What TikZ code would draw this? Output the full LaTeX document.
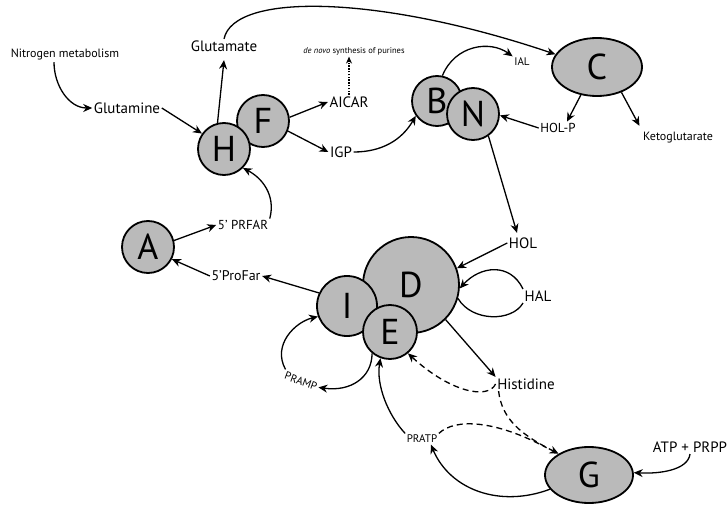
\documentclass[tikz,border=0pt]{standalone}
\usepackage{fontspec}
\setmainfont{PT Sans}
\usetikzlibrary{arrows.meta,shapes.geometric}
\newcommand{\fsz}[1]{\fontsize{#1}{#1}\selectfont}
\begin{document}
\begin{tikzpicture}[x=1pt,y=-1pt,
  enz/.style={circle,draw,line width=1.8pt,fill=black!27,inner sep=0pt,font=\fsz{36}},
  enzell/.style={ellipse,draw,line width=1.8pt,fill=black!27,inner sep=0pt,font=\fsz{36}},
  t/.style={inner sep=1.5pt,font=\fsz{15}},
  arr/.style={line width=1.3pt,-{Stealth[length=9pt,width=8pt]}},
  plain/.style={line width=1.3pt},
  dsh/.style={line width=1.3pt,dash pattern=on 6pt off 4pt},
  dts/.style={line width=1.3pt,dash pattern=on 1.5pt off 1.3pt,-{Stealth[length=7pt,width=6pt]}}
]
\useasboundingbox (0,0) rectangle (728,508);
% text nodes
\node[t,font=\fsz{12}] (nit) at (65,55) {Nitrogen metabolism};
\node[t] (glm) at (127,108) {Glutamine};
\node[t] (glu) at (224,46) {Glutamate};
\node[t,font=\fsz{8.5}] (dn) at (354,51) {\textit{de novo} synthesis of purines};
\node[t] (aicar) at (349,102) {AICAR};
\node[t] (igp) at (341,152) {IGP};
\node[t,font=\fsz{11}] (ial) at (522,62) {IAL};
\node[t,font=\fsz{13}] (holp) at (558,128) {HOL-P};
\node[t,font=\fsz{12}] (keto) at (678,138) {Ketoglutarate};
\node[t,font=\fsz{13}] (prfar) at (243,225) {5’ PRFAR};
\node[t,font=\fsz{14}] (profar) at (236,276) {5’ProFar};
\node[t] (hol) at (523,243) {HOL};
\node[t] (hal) at (538,296) {HAL};
\node[t] (his) at (526,384) {Histidine};
\node[t] (atp) at (690,447) {ATP + PRPP};
\node[t,font=\fsz{11}] (pratp) at (422,439) {PRATP};
\node[t,font=\fsz{11},rotate=-20] (pramp) at (301,381) {PRAMP};
% enzymes
\node[enz,minimum size=52pt] (F) at (263,121) {F};
\node[enz,minimum size=52pt] (H) at (224,149) {H};
\node[enz,minimum size=50pt] (B) at (437,101) {B};
\node[enz,minimum size=52pt] (N) at (473,114) {N};
\node[enzell,minimum width=90pt,minimum height=58pt] (C) at (597,67) {C};
\node[enz,minimum size=52pt] (A) at (148,247) {A};
\node[enz,minimum size=96pt] (D) at (411,285) {D};
\node[enz,minimum size=60pt] (I) at (347,306) {I};
\node[enz,minimum size=54pt] (E) at (390,332) {E};
\node[enzell,minimum width=88pt,minimum height=56pt] (G) at (589,475) {G};
% connectors
\draw[arr] ([xshift=-11pt]nit.south) to[out=-90,in=180] (glm.west);
\draw[arr] (glm.east) -- (H.145);
\draw[arr] (H.104) -- ([yshift=-7pt]glu.south);
\draw[arr] (glu.north) .. controls (234,-8) and (380,-5) .. (C.163);
\draw[arr] (F.8) -- (aicar.west);
\draw[arr] (F.-22) -- (igp.west);
\draw[dts] (aicar.north) -- (aicar.north |- dn.south);
\draw[arr] (igp.east) to[out=0,in=240] (B.215);
\draw[arr] (B.78) .. controls (455,45) and (490,40) .. (ial.north west);
\draw[arr] (C.-120) -- ([xshift=9pt]holp.north);
\draw[arr] (C.-46) -- ([xshift=-2pt,yshift=5pt]keto.north west);
\draw[arr] (holp.west) -- (N.-3);
\draw[arr] (N.-55) -- ([xshift=-6pt,yshift=3pt]hol.north);
\draw[arr] (hol.west) -- (D.20);
\draw[plain] (D.-16) .. controls (472,322) and (512,322) .. (hal.south west);
\draw[arr] (hal.north west) .. controls (510,262) and (480,266) .. (D.-4);
\draw[arr] (D.-45) -- (his.north west);
\draw[dsh,-{Stealth[length=9pt,width=8pt]}] (his.west) .. controls (488,400) and (450,392) .. (E.-50);
\draw[dsh,-{Stealth[length=9pt,width=8pt]}] ([xshift=3pt]his.south west) .. controls (502,420) and (522,435) .. (G.145);
\draw[dsh] (pratp.north east) .. controls (455,418) and (495,420) .. ([xshift=-12pt,yshift=6pt]G.145);
\draw[arr] (atp.south) .. controls (688,470) and (660,474) .. (G.3);
\draw[arr] (G.-160) .. controls (500,508) and (450,490) .. ([xshift=-8pt]pratp.south east);
\draw[arr] (pratp.north west) .. controls (388,415) and (376,385) .. (E.-110);
\draw[arr] (E.-130) .. controls (372,378) and (350,392) .. (pramp.east);
\draw[arr] (pramp.north west) .. controls (272,345) and (295,322) .. (I.-160);
\draw[arr] (I.155) -- (profar.east);
\draw[arr] (profar.west) -- (A.-27);
\draw[arr] (A.14) -- (prfar.west);
\draw[arr] (prfar.north east) .. controls (276,195) and (262,178) .. (H.-45);
\end{tikzpicture}
\end{document}
